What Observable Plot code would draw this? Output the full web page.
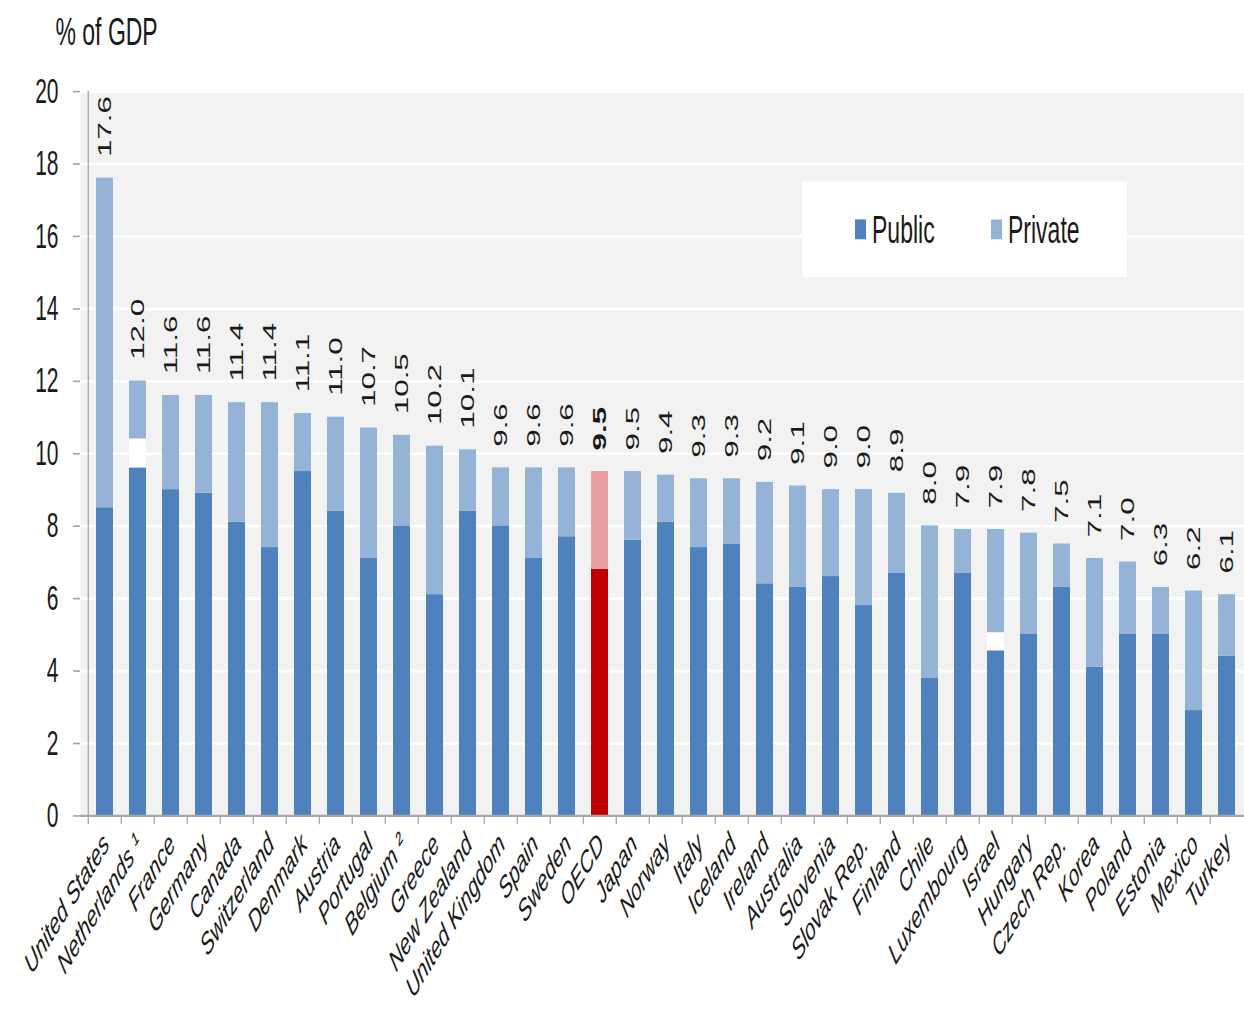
<!DOCTYPE html>
<html><head><meta charset="utf-8">
<script src="https://cdn.jsdelivr.net/npm/d3@7"></script>
<script src="https://cdn.jsdelivr.net/npm/@observablehq/plot@0.6"></script>
<style>
html,body{margin:0;background:#fff;font-family:"Liberation Sans",Arial,sans-serif;}
#outer{position:relative;width:1244px;height:1015px;overflow:hidden;}
#wrap{position:absolute;left:0;top:0;width:1244px;height:615px;transform:scaleY(1.65);transform-origin:0 0;}
#legend{position:absolute;left:802px;top:110px;width:325px;height:58px;background:#fff;}
.item{position:absolute;top:0;height:58px;display:flex;align-items:center;font-size:23px;color:#1a1a1a;}
.sw{display:inline-block;width:11px;height:12px;margin-right:6px;}
</style></head><body><div id="outer"><div id="wrap"></div></div>
<script>
const countries = ["United States","Netherlands ¹","France","Germany","Canada","Switzerland","Denmark","Austria","Portugal","Belgium ²","Greece","New Zealand","United Kingdom","Spain","Sweden","OECD","Japan","Norway","Italy","Iceland","Ireland","Australia","Slovenia","Slovak Rep.","Finland","Chile","Luxembourg","Israel","Hungary","Czech Rep.","Korea","Poland","Estonia","Mexico","Turkey"];
const totals = [17.6,12.0,11.6,11.6,11.4,11.4,11.1,11.0,10.7,10.5,10.2,10.1,9.6,9.6,9.6,9.5,9.5,9.4,9.3,9.3,9.2,9.1,9.0,9.0,8.9,8.0,7.9,7.9,7.8,7.5,7.1,7.0,6.3,6.2,6.1];
const publicVals = [8.5,9.6,9.0,8.9,8.1,7.4,9.5,8.4,7.1,8.0,6.1,8.4,8.0,7.1,7.7,6.8,7.6,8.1,7.4,7.5,6.4,6.3,6.6,5.8,6.7,3.8,6.7,4.55,5.0,6.3,4.1,5.0,5.0,2.9,4.4];
const gapVals = [0,0.8,0,0,0,0,0,0,0,0,0,0,0,0,0,0,0,0,0,0,0,0,0,0,0,0,0,0.5,0,0,0,0,0,0,0];
const seriesNames = ["Public","Private"];
const yTicks = [0,2,4,6,8,10,12,14,16,18,20];
const highlight = "OECD";

const colors = {
  Public: "#4f81bd", Private: "#95b3d7", gap: "#ffffff",
  hiPublic: "#c00000", hiPrivate: "#e8a0a0"
};

const rows = countries.flatMap((c, i) => [
  {country: c, part: "Public", value: publicVals[i]},
  {country: c, part: "gap", value: gapVals[i]},
  {country: c, part: "Private", value: +(totals[i] - publicVals[i] - gapVals[i]).toFixed(2)}
]);
const fillOf = d => d.country === highlight
  ? (d.part === "Public" ? colors.hiPublic : d.part === "Private" ? colors.hiPrivate : colors.gap)
  : colors[d.part];

const xRange = [80, 1251];
const step = (xRange[1] - xRange[0]) / countries.length;
const tickDepth = -0.25;
const axisGray = "#a6a6a6";

const chart = Plot.plot({
  width: 1244, height: 615,
  marginLeft: 80, marginRight: 0, marginTop: 55, marginBottom: 121,
  style: {fontFamily: "'Liberation Sans', Arial, sans-serif", background: "transparent", overflow: "visible", color: "#1a1a1a"},
  x: {domain: countries, range: xRange, paddingInner: 0.5, paddingOuter: 0.25, label: null},
  y: {domain: [0, 20], label: null},
  color: {type: "identity"},
  marks: [
    Plot.frame({fill: "#f2f2f2", stroke: null}),
    Plot.ruleY(yTicks.filter(t => t > 0), {stroke: "#ffffff", strokeWidth: 1.6}),
    Plot.barY(rows, Plot.stackY({x: "country", y: "value", fill: fillOf, order: null})),
    Plot.ruleY([0], {stroke: axisGray, strokeWidth: 1.3}),
    Plot.ruleX([countries[0]], {x: d => d, dx: -step / 2, y1: 0, y2: 20, stroke: axisGray, strokeWidth: 1.3}),
    Plot.ruleX(countries, {x: d => d, dx: -step / 2, y1: 0, y2: tickDepth, stroke: axisGray, strokeWidth: 1.3}),
    Plot.axisY({ticks: yTicks, tickSize: 7, tickPadding: 15, fontSize: 21, stroke: axisGray, tickFormat: d => d}),
    Plot.axisX({tickSize: 0, tickRotate: -45, tickPadding: 14, dx: 1, fontSize: 18.5, fontStyle: "italic"}),
    Plot.text(countries, {filter: d => d !== highlight, x: d => d, y: (d, i) => totals[i], text: (d, i) => totals[i].toFixed(1), rotate: -90, textAnchor: "start", dy: -13, fontSize: 19}),
    Plot.text(countries, {filter: d => d === highlight, x: d => d, y: (d, i) => totals[i], text: (d, i) => totals[i].toFixed(1), rotate: -90, textAnchor: "start", dy: -13, fontSize: 19, fontWeight: "bold"}),
    Plot.text(["% of GDP"], {frameAnchor: "top-left", dx: -25, dy: -28, textAnchor: "start", lineAnchor: "bottom", fontSize: 23})
  ]
});

const wrap = document.getElementById("wrap");
wrap.appendChild(chart);
const legend = document.createElement("div");
legend.id = "legend";
const legendPos = [53, 189];
seriesNames.forEach((name, k) => {
  const it = document.createElement("div");
  it.className = "item";
  it.style.left = legendPos[k] + "px";
  const sw = document.createElement("span");
  sw.className = "sw";
  sw.style.background = colors[name];
  it.appendChild(sw);
  it.appendChild(document.createTextNode(name));
  legend.appendChild(it);
});
wrap.appendChild(legend);
</script></body></html>
